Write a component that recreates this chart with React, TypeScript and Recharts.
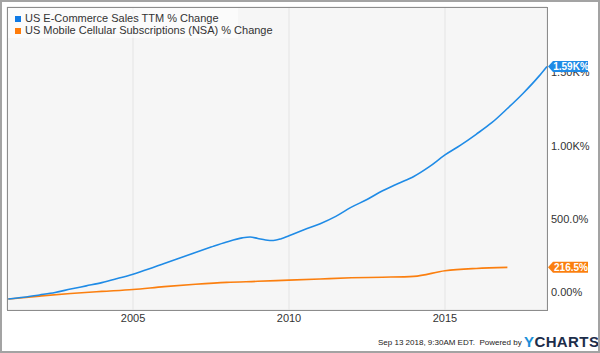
import React from 'react';
import {
  LineChart, Line, XAxis, YAxis, CartesianGrid, ReferenceDot, ReferenceLine,
} from 'recharts';

// blue: US E-Commerce Sales TTM % change (decimal year, %)
const ecomYears = [
  2001.0, 2001.5, 2002.0, 2002.5, 2003.0, 2003.5, 2004.0, 2004.5, 2005.0, 2005.5,
  2006.0, 2006.5, 2007.0, 2007.5, 2008.0, 2008.5, 2008.75, 2009.0, 2009.25, 2009.5,
  2009.75, 2010.0, 2010.5, 2011.0, 2011.5, 2012.0, 2012.5, 2013.0, 2013.5, 2014.0,
  2014.5, 2015.0, 2015.5, 2016.0, 2016.5, 2017.0, 2017.5, 2018.0, 2018.27,
];
const ecomValues = [
  0, 12, 28, 45, 68, 90, 112, 140, 170, 205,
  243, 280, 318, 355, 390, 418, 424, 414, 404, 400,
  412, 433, 475, 515, 565, 628, 680, 740, 790, 838,
  905, 985, 1052, 1126, 1205, 1302, 1405, 1520, 1590,
];

// orange: US Mobile Cellular Subscriptions (NSA) % change
const mobileYears = [
  2001, 2002, 2003, 2004, 2005, 2006, 2007, 2008, 2009,
  2010, 2011, 2012, 2013, 2014, 2015, 2016, 2017,
];
const mobileValues = [
  0, 20, 38, 52, 65, 85, 101, 114, 121,
  129, 137, 145, 149, 155, 193, 209, 216.5,
];

const xTicks = [2005, 2010, 2015];
const yTicks = [0, 500, 1000, 1500];
const yTickLabels = ['0.00%', '500.0%', '1.00K%', '1.50K%'];

const BLUE = '#1f8be6';
const ORANGE = '#fb7f0f';
const FONT = 'Arial, "Liberation Sans", Helvetica, sans-serif';
const X_MAX = 2018.27;

const ecomData = ecomYears.map((t, i) => ({ t, v: ecomValues[i] }));
const mobileData = mobileYears.map((t, i) => ({ t, v: mobileValues[i] }));

const yLabel = (text: string) => (props: any) => {
  const { x, y, width } = props.viewBox;
  return (
    <text x={x + width + 4} y={y - 7} dy="0.35em" fontSize={11} fill="#333" fontFamily={FONT} textAnchor="start">
      {text}
    </text>
  );
};

const tag = (color: string, text: string) => (props: any) => {
  const { cx, cy } = props;
  const x0 = cx + 1;
  const path = `M${x0},${cy} L${x0 + 5},${cy - 5.5} L${x0 + 40},${cy - 5.5} L${x0 + 40},${cy + 5.5} L${x0 + 5},${cy + 5.5} Z`;
  return (
    <g>
      <path d={path} fill={color} />
      <text x={x0 + 23} y={cy} dy="0.35em" textAnchor="middle" fontSize={10} fontWeight="bold" fill="#fff" fontFamily={FONT}>
        {text}
      </text>
    </g>
  );
};

export default function App() {
  return (
    <div style={{ position: 'absolute', left: 0, top: 0, width: 600, height: 353, background: '#fff', fontFamily: FONT }}>
      <LineChart width={600} height={353} margin={{ top: 7, right: 0, bottom: 23, left: 7 }}>
        <CartesianGrid stroke="#e4e4e4" fill="#f6f6f6" />
        <XAxis
          dataKey="t"
          type="number"
          domain={[2000.96, X_MAX]}
          ticks={xTicks}
          allowDataOverflow
          axisLine={false}
          tickLine={false}
          tickSize={0}
          tickMargin={4}
          height={20}
          tick={{ fontSize: 11, fill: '#333', fontFamily: FONT }}
        />
        <YAxis
          orientation="right"
          type="number"
          domain={[-75, 1996]}
          ticks={yTicks}
          allowDataOverflow
          axisLine={false}
          tickLine={false}
          tick={false}
          width={53}
        />
        <Line data={mobileData} dataKey="v" type="monotone" stroke={ORANGE} strokeWidth={1.6} dot={false} isAnimationActive={false} />
        <Line data={ecomData} dataKey="v" type="monotone" stroke={BLUE} strokeWidth={1.6} dot={false} isAnimationActive={false} />
        {yTicks.map((v, i) => (
          <ReferenceLine key={v} y={v} stroke="none" ifOverflow="visible" label={yLabel(yTickLabels[i])} />
        ))}
        <ReferenceDot x={X_MAX} y={mobileValues[mobileValues.length - 1]} ifOverflow="visible" shape={tag(ORANGE, '216.5%')} />
        <ReferenceDot x={X_MAX} y={ecomValues[ecomValues.length - 1]} ifOverflow="visible" shape={tag(BLUE, '1.59K%')} />
      </LineChart>

      {/* plot frame */}
      <div style={{ position: 'absolute', left: 7, top: 7, width: 541, height: 304, boxSizing: 'border-box', border: '1px solid #8c8c8c', pointerEvents: 'none' }} />

      {/* legend */}
      <div style={{ position: 'absolute', left: 8, top: 8, width: 230, height: 30, background: 'rgba(255,255,255,0.55)', fontSize: 11, color: '#333', lineHeight: '12px' }}>
        <div style={{ position: 'absolute', left: 7, top: 4, whiteSpace: 'nowrap' }}>
          <span style={{ display: 'inline-block', width: 6, height: 6, background: '#0f7ae5', marginRight: 4, verticalAlign: 'middle' }} />
          US E-Commerce Sales TTM % Change
        </div>
        <div style={{ position: 'absolute', left: 7, top: 16, whiteSpace: 'nowrap' }}>
          <span style={{ display: 'inline-block', width: 6, height: 6, background: '#ff7c0a', marginRight: 4, verticalAlign: 'middle' }} />
          US Mobile Cellular Subscriptions (NSA) % Change
        </div>
      </div>

      {/* footer */}
      <div style={{ position: 'absolute', left: 378, top: 338, fontSize: 8, color: '#222', whiteSpace: 'nowrap' }}>
        Sep 13 2018, 9:30AM EDT.&nbsp; Powered by
      </div>
      <div style={{ position: 'absolute', left: 524, top: 333, fontSize: 15, fontWeight: 'bold', letterSpacing: 0.4, whiteSpace: 'nowrap' }}>
        <span style={{ color: '#1b8fd9' }}>Y</span><span style={{ color: '#1c2d4a' }}>CHARTS</span>
      </div>

      {/* outer border */}
      <div style={{ position: 'absolute', left: 0, top: 0, width: 600, height: 353, boxSizing: 'border-box', border: '2px solid #a3a3a3', pointerEvents: 'none' }} />
    </div>
  );
}
